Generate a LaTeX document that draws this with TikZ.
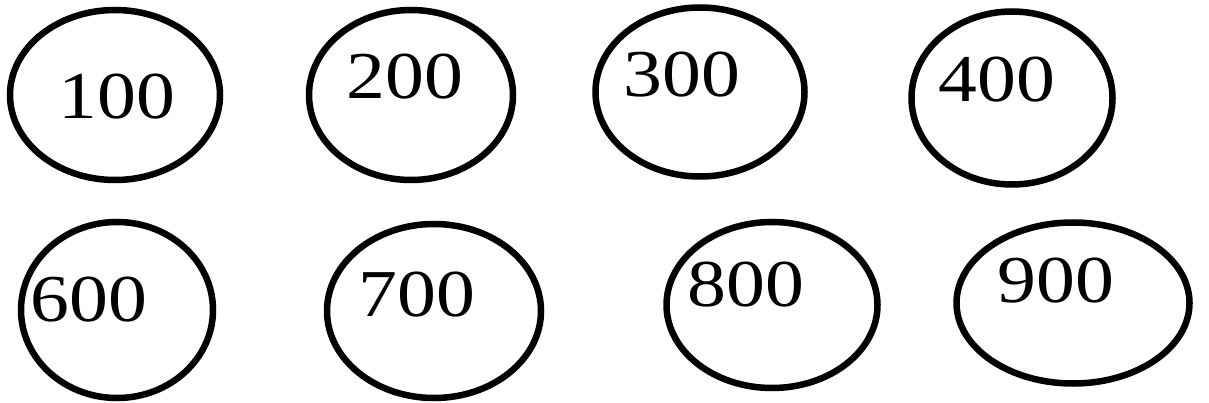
\documentclass[tikz,border=0pt]{standalone}
\usepackage{fontspec}
\setmainfont{Liberation Serif}
\usetikzlibrary{shapes.geometric}
\begin{document}
\begin{tikzpicture}[x=1pt,y=-1pt,
  ring/.style={ellipse,draw=black,line width=6.5pt,inner sep=0pt},
  num/.style={inner sep=0pt,font=\fontsize{67}{67}\selectfont,xscale=1.16}]
\useasboundingbox (0,0) rectangle (1209,403);
\node[ring,minimum width=210pt,minimum height=170pt] (e1) at (115,95) {};
\node[ring,minimum width=204pt,minimum height=170pt] (e2) at (411,95) {};
\node[ring,minimum width=209pt,minimum height=169pt] (e3) at (700,92) {};
\node[ring,minimum width=201pt,minimum height=173pt] (e4) at (1012,98) {};
\node[ring,minimum width=192pt,minimum height=176pt] (e6) at (117,310) {};
\node[ring,minimum width=214pt,minimum height=174pt] (e7) at (434,311) {};
\node[ring,minimum width=211pt,minimum height=166pt] (e8) at (772,305) {};
\node[ring,minimum width=233pt,minimum height=161pt] (e9) at (1073,303) {};
\node[num] (t1) at (117,97) {100};
\node[num] (t2) at (405,77) {200};
\node[num] (t3) at (682,75) {300};
\node[num] (t4) at (997,80) {400};
\node[num] (t6) at (89,300) {600};
\node[num] (t7) at (417,295) {700};
\node[num] (t8) at (746,285) {800};
\node[num] (t9) at (1056,281) {900};
\end{tikzpicture}
\end{document}
